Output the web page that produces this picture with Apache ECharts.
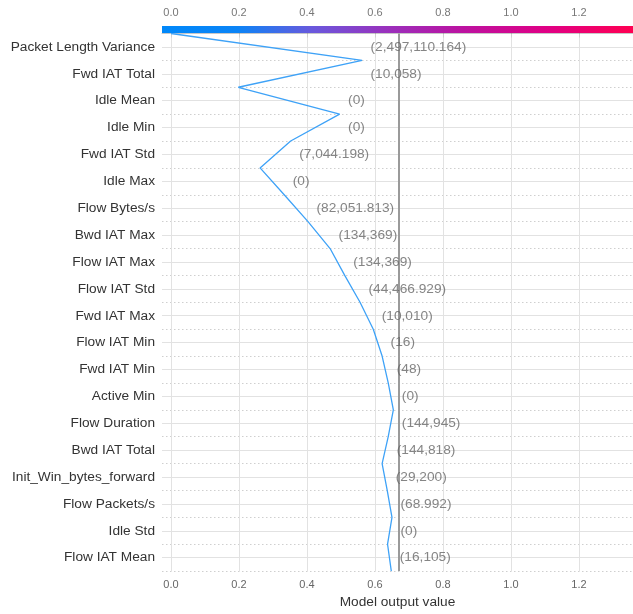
<!DOCTYPE html>
<html>
<head>
<meta charset="utf-8">
<script src="https://cdn.jsdelivr.net/npm/echarts@6/dist/echarts.min.js"></script>
<style>
  html, body { margin: 0; padding: 0; background: #fff; }
  #chart { width: 633px; height: 614px; }
</style>
</head>
<body>
<div id="chart"></div>
<script>
// Features, listed from the top row to the bottom row
const features = [
  "Packet Length Variance", "Fwd IAT Total", "Idle Mean", "Idle Min",
  "Fwd IAT Std", "Idle Max", "Flow Bytes/s", "Bwd IAT Max", "Flow IAT Max",
  "Flow IAT Std", "Fwd IAT Max", "Flow IAT Min", "Fwd IAT Min", "Active Min",
  "Flow Duration", "Bwd IAT Total", "Init_Win_bytes_forward", "Flow Packets/s",
  "Idle Std", "Flow IAT Mean"
];

// Feature values shown in parentheses beside each row
const featureValues = [
  "2,497,110.164", "10,058", "0", "0", "7,044.198", "0", "82,051.813",
  "134,369", "134,369", "44,466.929", "10,010", "16", "48", "0",
  "144,945", "144,818", "29,200", "68.992", "0", "16,105"
];

// Cumulative model output at each row boundary, from the top edge down to the bottom edge
const outputPath = [
  0.000, 0.562, 0.198, 0.496, 0.352, 0.262, 0.333, 0.403, 0.468, 0.511,
  0.556, 0.595, 0.621, 0.639, 0.654, 0.639, 0.621, 0.636, 0.650, 0.637, 0.648
];

// Expected (base) model output
const baseValue = 0.671;

// Tick labels of the output axis
const xTicks = [0.0, 0.2, 0.4, 0.6, 0.8, 1.0, 1.2];

const X_MIN = -0.0265, X_MAX = 1.359;
const nRows = features.length;

const lineData = outputPath.map((v, k) => [v, k]);
const labelData = features.map((f, i) => [Math.max(outputPath[i], outputPath[i + 1]), i + 0.5, i]);
const rowCenters = features.map((f, i) => i + 0.5);

const FONT = "Liberation Sans, Arial, Helvetica, sans-serif";
const chart = echarts.init(document.getElementById('chart'), null, { renderer: 'canvas' });

const option = {
  backgroundColor: '#ffffff',
  animation: false,
  textStyle: { fontFamily: FONT },
  grid: { left: 162, right: 0, top: 33.5, bottom: 40.5, containLabel: false },
  xAxis: [
    {
      type: 'value', min: X_MIN, max: X_MAX, position: 'bottom',
      name: 'Model output value', nameLocation: 'middle', nameGap: 22,
      nameTextStyle: { fontSize: 13.7, color: '#333', fontFamily: FONT },
      axisLine: { show: true, lineStyle: { color: '#c8c8c8', width: 1 } },
      axisTick: { show: true, length: 4, customValues: xTicks, lineStyle: { color: '#d0d0d0' } },
      axisLabel: {
        customValues: xTicks, fontSize: 11, color: '#666', margin: 8,
        formatter: v => v.toFixed(1)
      },
      splitLine: { show: true, lineStyle: { color: '#e2e2e2', width: 1 } }
    },
    {
      type: 'value', min: X_MIN, max: X_MAX, position: 'top', offset: 7,
      axisLine: { show: false },
      axisTick: { show: true, length: 4, inside: false, customValues: xTicks, lineStyle: { color: '#888' } },
      axisLabel: {
        customValues: xTicks, fontSize: 11, color: '#777', margin: 8,
        formatter: v => v.toFixed(1)
      },
      splitLine: { show: false }
    }
  ],
  yAxis: [
    {
      type: 'value', min: 0, max: nRows, inverse: true,
      axisLine: { show: false },
      axisTick: { show: false, customValues: rowCenters },
      axisLabel: {
        customValues: rowCenters, fontSize: 13.7, color: '#333', margin: 7,
        formatter: v => features[Math.floor(v)]
      },
      splitLine: { show: true, lineStyle: { color: '#e2e2e2', width: 1 } }
    },
    {
      type: 'value', min: 0, max: nRows, interval: 1, inverse: true, position: 'left',
      axisLine: { show: false }, axisTick: { show: false }, axisLabel: { show: false },
      splitLine: { show: true, lineStyle: { color: '#cfcfcf', width: 1, type: [1.5, 2.5] } }
    }
  ],
  graphic: [
    {
      type: 'rect', left: 162, top: 26, z: 10,
      shape: { width: 471, height: 7 },
      style: {
        fill: new echarts.graphic.LinearGradient(0, 0, 1, 0, [
          { offset: 0.00, color: '#0088fa' },
          { offset: 0.16, color: '#0b84f6' },
          { offset: 0.32, color: '#6a58dc' },
          { offset: 0.48, color: '#9a30bc' },
          { offset: 0.64, color: '#bc12a0' },
          { offset: 0.82, color: '#e00084' },
          { offset: 1.00, color: '#ff0052' }
        ])
      }
    }
  ],
  series: [
    {
      name: 'Model output',
      type: 'line',
      xAxisIndex: 0, yAxisIndex: 0,
      data: lineData,
      symbol: 'none',
      lineStyle: { color: '#3ea2f7', width: 1.3 },
      z: 5,
      markLine: {
        silent: true, symbol: 'none',
        label: { show: false },
        lineStyle: { color: '#9a9a9a', width: 2, type: 'solid' },
        data: [{ xAxis: baseValue }],
        z: 3
      }
    },
    {
      name: 'Feature values',
      type: 'scatter',
      xAxisIndex: 0, yAxisIndex: 0,
      data: labelData,
      symbolSize: 1,
      itemStyle: { color: 'rgba(0,0,0,0)' },
      z: 6,
      label: {
        show: true, position: 'right', distance: 8,
        fontSize: 13.7, color: '#666', fontFamily: FONT,
        formatter: p => '(' + featureValues[p.data[2]] + ')'
      }
    }
  ]
};

chart.setOption(option);
</script>
</body>
</html>
